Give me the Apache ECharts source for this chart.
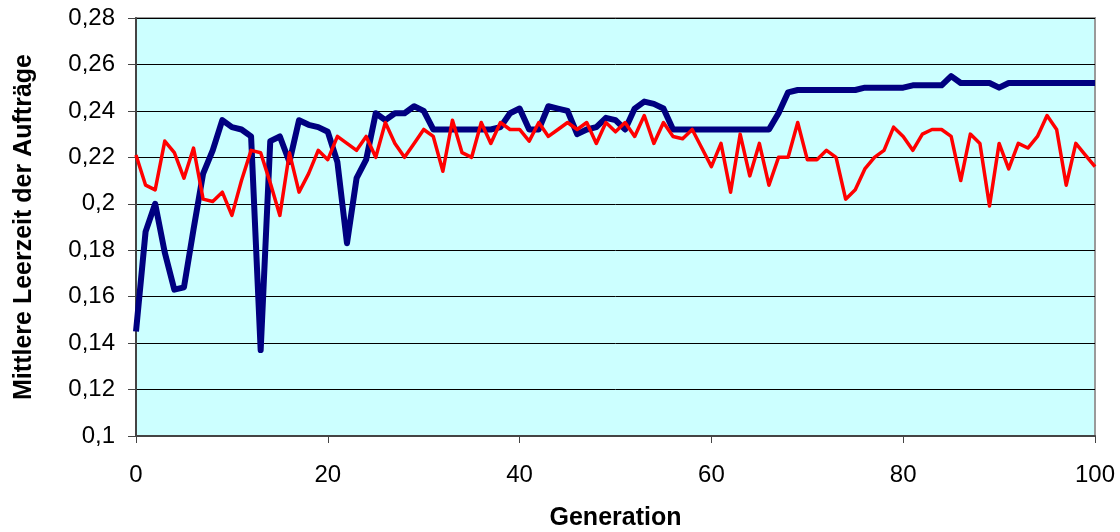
<!DOCTYPE html>
<html>
<head>
<meta charset="utf-8">
<title>Mittlere Leerzeit der Aufträge</title>
<script src="https://cdn.jsdelivr.net/npm/echarts@6/dist/echarts.min.js"></script>
<style>
    html, body { margin: 0; padding: 0; background: #fff; }
    #chart { width: 1120px; height: 532px; }
</style>
</head>
<body>
<div id="chart"></div>
<script>
// ============================================
// Daten
// ============================================

// blaue Kurve, Generation 0..100
const blueSeries = [
    0.145, 0.188, 0.200, 0.179, 0.163, 0.164, 0.189, 0.213, 0.223, 0.236,
    0.233, 0.232, 0.229, 0.137, 0.227, 0.229, 0.218, 0.236, 0.234, 0.233,
    0.231, 0.218, 0.183, 0.211, 0.219, 0.239, 0.236, 0.239, 0.239, 0.242,
    0.240, 0.232, 0.232, 0.232, 0.232, 0.232, 0.232, 0.232, 0.233, 0.239,
    0.241, 0.232, 0.232, 0.242, 0.241, 0.240, 0.230, 0.232, 0.233, 0.237,
    0.236, 0.232, 0.241, 0.244, 0.243, 0.241, 0.232, 0.232, 0.232, 0.232,
    0.232, 0.232, 0.232, 0.232, 0.232, 0.232, 0.232, 0.239, 0.248, 0.249,
    0.249, 0.249, 0.249, 0.249, 0.249, 0.249, 0.250, 0.250, 0.250, 0.250,
    0.250, 0.251, 0.251, 0.251, 0.251, 0.255, 0.252, 0.252, 0.252, 0.252,
    0.250, 0.252, 0.252, 0.252, 0.252, 0.252, 0.252, 0.252, 0.252, 0.252,
    0.252
];

// rote Kurve, Generation 0..100
const redSeries = [
    0.221, 0.208, 0.206, 0.227, 0.222, 0.211, 0.224, 0.202, 0.201, 0.205,
    0.195, 0.210, 0.223, 0.222, 0.209, 0.195, 0.222, 0.205, 0.213, 0.223,
    0.219, 0.229, 0.226, 0.223, 0.229, 0.220, 0.235, 0.226, 0.220, 0.226,
    0.232, 0.229, 0.214, 0.236, 0.222, 0.220, 0.235, 0.226, 0.235, 0.232,
    0.232, 0.227, 0.235, 0.229, 0.232, 0.235, 0.232, 0.235, 0.226, 0.235,
    0.231, 0.235, 0.229, 0.238, 0.226, 0.235, 0.229, 0.228, 0.232, 0.224,
    0.216, 0.226, 0.205, 0.230, 0.212, 0.226, 0.208, 0.220, 0.220, 0.235,
    0.219, 0.219, 0.223, 0.220, 0.202, 0.206, 0.215, 0.220, 0.223, 0.233,
    0.229, 0.223, 0.230, 0.232, 0.232, 0.229, 0.210, 0.230, 0.226, 0.199,
    0.226, 0.215, 0.226, 0.224, 0.229, 0.238, 0.232, 0.208, 0.226, 0.221,
    0.216
];

// Achsen
const xTicks = [0, 20, 40, 60, 80, 100];
const yTicks = [0.1, 0.12, 0.14, 0.16, 0.18, 0.2, 0.22, 0.24, 0.26, 0.28];

const FONT = "'Liberation Sans', Arial, sans-serif";

// Komma als Dezimaltrenner
function fmtDe(v) {
    return String(+Number(v).toFixed(2)).replace('.', ',');
}

function toPoints(arr) {
    return arr.map((v, i) => [i, v]);
}

const chart = echarts.init(document.getElementById('chart'));

chart.setOption({
    animation: false,
    backgroundColor: '#ffffff',
    grid: {
        left: 136,
        right: 25,
        top: 18,
        bottom: 96,
        outerBoundsMode: 'none',
        containLabel: false,
        show: true,
        backgroundColor: '#ccffff',
        borderColor: '#9a9a9a',
        borderWidth: 2
    },
    xAxis: {
        type: 'value',
        min: xTicks[0],
        max: xTicks[xTicks.length - 1],
        interval: xTicks[1] - xTicks[0],
        name: 'Generation',
        nameLocation: 'middle',
        nameGap: 70,
        nameTextStyle: { fontFamily: FONT, fontSize: 25, fontWeight: 'bold', color: '#000' },
        axisLine: { show: true, onZero: false, lineStyle: { color: '#444', width: 2 } },
        axisTick: { show: true, length: 7, lineStyle: { color: '#444', width: 1 } },
        axisLabel: { fontFamily: FONT, fontSize: 24, color: '#000', margin: 27 },
        splitLine: { show: false }
    },
    yAxis: {
        type: 'value',
        min: yTicks[0],
        max: yTicks[yTicks.length - 1],
        interval: 0.02,
        name: 'Mittlere Leerzeit der Aufträge',
        nameLocation: 'middle',
        nameGap: 99,
        nameTextStyle: { fontFamily: FONT, fontSize: 25, fontWeight: 'bold', color: '#000' },
        axisLine: { show: true, lineStyle: { color: '#444', width: 2 } },
        axisTick: { show: true, length: 8, lineStyle: { color: '#444', width: 1 } },
        axisLabel: { fontFamily: FONT, fontSize: 24, color: '#000', margin: 21, formatter: fmtDe },
        splitLine: { show: true, lineStyle: { color: '#000', width: 1 } }
    },
    series: [
        {
            name: 'blau',
            type: 'line',
            data: toPoints(blueSeries),
            showSymbol: false,
            symbol: 'none',
            lineStyle: { color: '#000080', width: 6, join: 'round' },
            z: 2
        },
        {
            name: 'rot',
            type: 'line',
            data: toPoints(redSeries),
            showSymbol: false,
            symbol: 'none',
            lineStyle: { color: '#ff0000', width: 3.5, join: 'round' },
            z: 3
        }
    ]
});
</script>
</body>
</html>
